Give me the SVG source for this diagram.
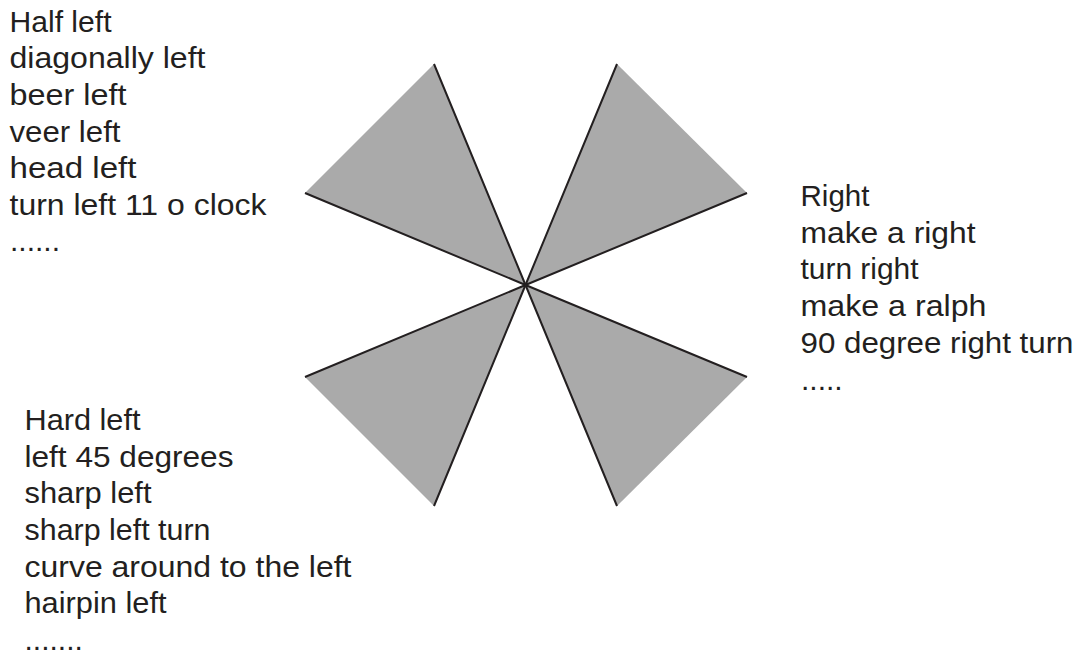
<svg xmlns="http://www.w3.org/2000/svg" width="1081" height="656" viewBox="0 0 1081 656">
<style>
.wedge{fill:#aaaaaa;stroke:none}
.edge{stroke:#231f20;stroke-width:2;stroke-linecap:butt;fill:none}
text{font-family:"Liberation Sans",Arial,sans-serif;font-size:30px;fill:#231f20}
</style>
<rect width="1081" height="656" fill="#ffffff"/>
<g id="wedge-upper-left">
<polygon class="wedge" points="525.5,285 434,64 305,193"/>
<path class="edge" d="M525.5,285 L434,64 M525.5,285 L305,193"/>
</g>
<g id="wedge-upper-right">
<polygon class="wedge" points="525.5,285 617,64 747,193"/>
<path class="edge" d="M525.5,285 L617,64 M525.5,285 L747,193"/>
</g>
<g id="wedge-lower-left">
<polygon class="wedge" points="525.5,285 305,377 434,506"/>
<path class="edge" d="M525.5,285 L305,377 M525.5,285 L434,506"/>
</g>
<g id="wedge-lower-right">
<polygon class="wedge" points="525.5,285 747,377 617,506"/>
<path class="edge" d="M525.5,285 L747,377 M525.5,285 L617,506"/>
</g>
<g id="label-half-left">
<text x="9.5" y="31.7" textLength="102" lengthAdjust="spacingAndGlyphs">Half left</text>
<text x="9.5" y="68.3" textLength="196" lengthAdjust="spacingAndGlyphs">diagonally left</text>
<text x="9.5" y="105" textLength="117" lengthAdjust="spacingAndGlyphs">beer left</text>
<text x="9.5" y="141.7" textLength="111" lengthAdjust="spacingAndGlyphs">veer left</text>
<text x="9.5" y="178.3" textLength="127" lengthAdjust="spacingAndGlyphs">head left</text>
<text x="9.5" y="215" textLength="257" lengthAdjust="spacingAndGlyphs">turn left 11 o clock</text>
<text x="10" y="251">......</text>
</g>
<g id="label-right">
<text x="800.5" y="206" textLength="69" lengthAdjust="spacingAndGlyphs">Right</text>
<text x="800.5" y="242.7" textLength="175" lengthAdjust="spacingAndGlyphs">make a right</text>
<text x="800.5" y="279.3" textLength="118" lengthAdjust="spacingAndGlyphs">turn right</text>
<text x="800.5" y="316" textLength="186" lengthAdjust="spacingAndGlyphs">make a ralph</text>
<text x="800.5" y="353" textLength="273" lengthAdjust="spacingAndGlyphs">90 degree right turn</text>
<text x="801" y="390">.....</text>
</g>
<g id="label-hard-left">
<text x="24.5" y="430" textLength="116" lengthAdjust="spacingAndGlyphs">Hard left</text>
<text x="24.5" y="466.7" textLength="209" lengthAdjust="spacingAndGlyphs">left 45 degrees</text>
<text x="24.5" y="503.3" textLength="127" lengthAdjust="spacingAndGlyphs">sharp left</text>
<text x="24.5" y="540" textLength="186" lengthAdjust="spacingAndGlyphs">sharp left turn</text>
<text x="24.5" y="576.7" textLength="327" lengthAdjust="spacingAndGlyphs">curve around to the left</text>
<text x="24.5" y="613.3" textLength="142" lengthAdjust="spacingAndGlyphs">hairpin left</text>
<text x="24.5" y="650">.......</text>
</g>
</svg>
